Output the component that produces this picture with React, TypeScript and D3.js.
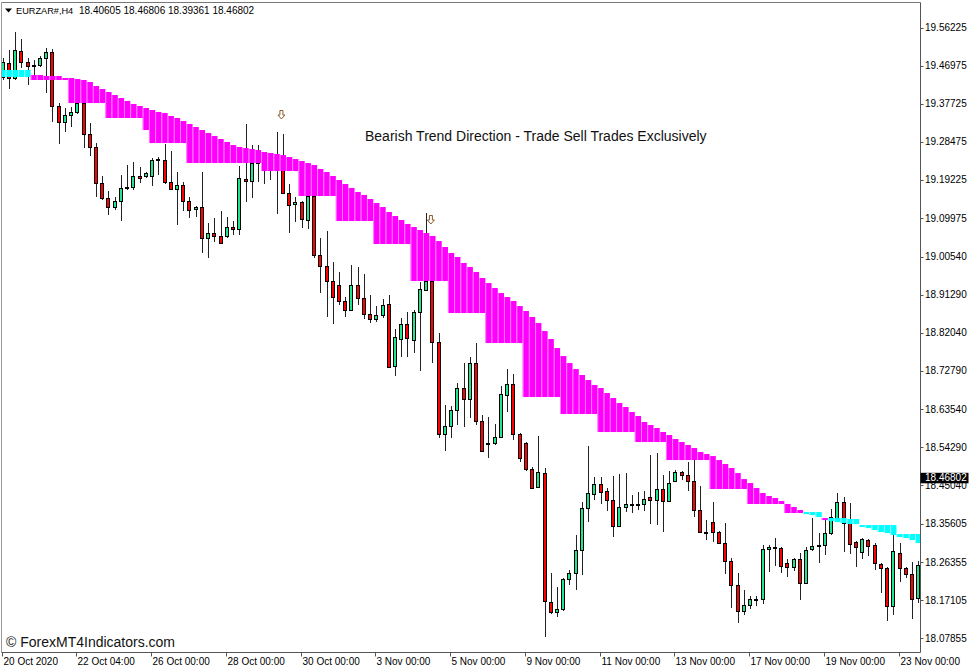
import React from 'react';
import * as d3 from 'd3';

// ---- data (EURZAR#, H4) ----
const opens = [
  19.4424, 19.4764, 19.4399, 19.5056, 19.4788, 19.4691, 19.4715, 19.4885, 19.5031, 19.3719,
  19.3329, 19.3500, 19.3573, 19.3792, 19.3038, 19.2722, 19.1847, 19.1482, 19.1263, 19.1409,
  19.1725, 19.1750, 19.2017, 19.2017, 19.2017, 19.2406, 19.2406, 19.1871, 19.1701, 19.1798,
  19.1409, 19.1214, 19.1263, 19.0509, 19.0631, 19.0558, 19.0558, 19.0777, 19.0728, 19.1944,
  19.1896, 19.2333, 19.2406, 19.2284, 19.2211, 19.2284, 19.1604, 19.1336, 19.1384, 19.0947,
  19.1531, 19.0096, 18.9829, 18.9464, 18.9366, 18.8978, 18.8759, 18.9366, 18.9051, 18.8662,
  18.8540, 18.8637, 18.8905, 18.7397, 18.8054, 18.8419, 18.8030, 18.8710, 18.9245, 18.9464,
  18.7981, 18.5744, 18.5939, 18.6328, 18.6863, 18.6595, 18.7470, 18.6061, 18.5525, 18.5525,
  18.5672, 18.6693, 18.6960, 18.5744, 18.5525, 18.4893, 18.4456, 18.4796, 18.1659, 18.1417,
  18.1489, 18.2219, 18.2365, 18.2924, 18.3945, 18.4286, 18.4529, 18.4359, 18.4140, 18.3507,
  18.3970, 18.4043, 18.4018, 18.4043, 18.4213, 18.4140, 18.4407, 18.4115, 18.4602, 18.4821,
  18.4747, 18.4602, 18.3897, 18.3361, 18.3604, 18.3361, 18.3094, 18.2657, 18.2073, 18.1441,
  18.1587, 18.1733, 18.1733, 18.2948, 18.2997, 18.2973, 18.2608, 18.2511, 18.2705, 18.2122,
  18.2948, 18.3021, 18.3045, 18.3337, 18.3702, 18.4091, 18.3580, 18.3118, 18.2876, 18.3167,
  18.3045, 18.2584, 18.2487, 18.1562, 18.2851, 18.2487, 18.2341, 18.1757,
];
const highs = [
  19.4885, 19.5080, 19.5518, 19.5348, 19.4885, 19.4837, 19.4934, 19.5128, 19.5104, 19.3792,
  19.3670, 19.3695, 19.3841, 19.4351, 19.3305, 19.2819, 19.2017, 19.1653, 19.1507, 19.2041,
  19.2284, 19.2357, 19.2236, 19.2114, 19.2454, 19.2479, 19.2795, 19.2625, 19.2114, 19.1871,
  19.1507, 19.1287, 19.2114, 19.0874, 19.0995, 19.1166, 19.1020, 19.0923, 19.2260, 19.3281,
  19.2770, 19.2770, 19.2527, 19.2454, 19.3086, 19.3038, 19.1823, 19.1507, 19.1409, 19.1725,
  19.1628, 19.0509, 19.0680, 18.9926, 18.9683, 18.9075, 18.9853, 18.9805, 18.9635, 18.9124,
  18.8857, 18.9026, 18.9124, 18.8297, 18.8565, 18.8710, 18.8759, 18.9439, 19.1117, 18.9488,
  18.8200, 18.6449, 18.6425, 18.6984, 18.7470, 18.7616, 18.7957, 18.6207, 18.6158, 18.5988,
  18.6911, 18.7324, 18.7203, 18.5769, 18.5549, 18.4942, 18.5696, 18.4918, 18.2365, 18.2025,
  18.2244, 18.2438, 18.3288, 18.4091, 18.5452, 18.4699, 18.4699, 18.4432, 18.4723, 18.4772,
  18.4796, 18.4262, 18.4334, 18.4359, 18.5234, 18.5282, 18.4748, 18.4845, 18.4869, 18.4845,
  18.5063, 18.5112, 18.4480, 18.3653, 18.4091, 18.3386, 18.3580, 18.2730, 18.2365, 18.1952,
  18.1806, 18.1806, 18.3045, 18.3045, 18.3216, 18.2997, 18.2705, 18.2730, 18.2851, 18.2997,
  18.3702, 18.3337, 18.3702, 18.3921, 18.4310, 18.4213, 18.4067, 18.3143, 18.3216, 18.3191,
  18.3094, 18.2608, 18.2511, 18.3288, 18.3094, 18.2511, 18.2633, 18.2657,
];
const lows = [
  19.4351, 19.4132, 19.4351, 19.4642, 19.4229, 19.4472, 19.4667, 19.4035, 19.3329, 19.2795,
  19.3086, 19.3208, 19.3524, 19.2697, 19.2503, 19.1507, 19.1433, 19.1068, 19.1190, 19.0923,
  19.1677, 19.1677, 19.1847, 19.1968, 19.1774, 19.2041, 19.1823, 19.1677, 19.0825, 19.1166,
  19.0996, 19.1020, 19.0145, 19.0023, 19.0412, 19.0364, 19.0509, 19.0582, 19.0582, 19.1384,
  19.1482, 19.1871, 19.1823, 19.1920, 19.1093, 19.1580, 19.0631, 19.0898, 19.0752, 19.0728,
  19.0023, 18.9172, 18.8589, 18.8419, 18.8880, 18.8589, 18.8735, 18.8880, 18.8540, 18.8443,
  18.8467, 18.8565, 18.7349, 18.7154, 18.7617, 18.7617, 18.7714, 18.7276, 18.9221, 18.7470,
  18.5647, 18.5331, 18.5647, 18.5964, 18.5915, 18.6133, 18.5964, 18.5307, 18.5160, 18.5477,
  18.5647, 18.6279, 18.5598, 18.5063, 18.4845, 18.4407, 18.4432, 18.0810, 18.1368, 18.1295,
  18.1441, 18.2073, 18.1952, 18.2316, 18.3604, 18.4140, 18.4043, 18.3873, 18.3240, 18.3483,
  18.3848, 18.3824, 18.3897, 18.3873, 18.3556, 18.3532, 18.3361, 18.4091, 18.4577, 18.4626,
  18.4359, 18.3726, 18.3337, 18.3167, 18.3118, 18.3070, 18.2341, 18.1513, 18.1149, 18.1343,
  18.1489, 18.1562, 18.1611, 18.2389, 18.2535, 18.2365, 18.2268, 18.2414, 18.1708, 18.2097,
  18.2900, 18.2608, 18.2803, 18.3288, 18.3653, 18.2876, 18.2827, 18.2511, 18.2705, 18.2778,
  18.2438, 18.1879, 18.1198, 18.1343, 18.2146, 18.2243, 18.1246, 18.1635,
];
const closes = [
  19.4788, 19.4399, 19.5080, 19.4788, 19.4691, 19.4715, 19.4885, 19.5031, 19.3719, 19.3329,
  19.3500, 19.3573, 19.3792, 19.3038, 19.2722, 19.1847, 19.1482, 19.1263, 19.1409, 19.1725,
  19.1750, 19.2017, 19.1968, 19.2090, 19.2406, 19.2430, 19.1871, 19.1701, 19.1798, 19.1409,
  19.1190, 19.1263, 19.0509, 19.0631, 19.0558, 19.0388, 19.0777, 19.0728, 19.1968, 19.1896,
  19.2333, 19.2406, 19.2284, 19.2211, 19.2284, 19.1604, 19.1312, 19.1384, 19.0971, 19.1531,
  19.0096, 18.9829, 18.9464, 18.9075, 18.8978, 18.8759, 18.9366, 18.9051, 18.8662, 18.8540,
  18.8637, 18.8880, 18.7373, 18.8103, 18.8419, 18.8079, 18.8710, 18.9269, 18.9464, 18.7981,
  18.5744, 18.5939, 18.6328, 18.6863, 18.6595, 18.7470, 18.6061, 18.5331, 18.5501, 18.5672,
  18.6717, 18.6960, 18.5744, 18.5160, 18.4893, 18.4432, 18.4821, 18.1684, 18.1417, 18.1489,
  18.2219, 18.2365, 18.2924, 18.3945, 18.4310, 18.4529, 18.4334, 18.4140, 18.3507, 18.3970,
  18.4043, 18.4018, 18.4043, 18.4164, 18.4140, 18.4407, 18.4115, 18.4553, 18.4821, 18.4747,
  18.4602, 18.3897, 18.3361, 18.3337, 18.3361, 18.3094, 18.2657, 18.2073, 18.1441, 18.1587,
  18.1733, 18.1708, 18.2948, 18.2997, 18.2973, 18.2535, 18.2511, 18.2705, 18.2122, 18.2924,
  18.3021, 18.3045, 18.3337, 18.3726, 18.4091, 18.3580, 18.3070, 18.2997, 18.3191, 18.3021,
  18.2608, 18.2487, 18.1562, 18.2900, 18.2487, 18.2341, 18.1733, 18.2560,
];

// trend ribbon (histogram between two lines)
const bandTop = [
  19.4594, 19.4594, 19.4594, 19.4594, 19.4594, 19.4472, 19.4472, 19.4448, 19.4448, 19.4448,
  19.4399, 19.4399, 19.4375, 19.4351, 19.4302, 19.4205, 19.4132, 19.4059, 19.3986, 19.3913,
  19.3841, 19.3768, 19.3719, 19.3670, 19.3622, 19.3573, 19.3549, 19.3476, 19.3427, 19.3354,
  19.3281, 19.3208, 19.3135, 19.3062, 19.2989, 19.2916, 19.2844, 19.2770, 19.2722, 19.2697,
  19.2673, 19.2649, 19.2600, 19.2576, 19.2552, 19.2527, 19.2479, 19.2430, 19.2382, 19.2333,
  19.2284, 19.2187, 19.2114, 19.2017, 19.1920, 19.1823, 19.1725, 19.1628, 19.1555, 19.1458,
  19.1361, 19.1263, 19.1142, 19.1045, 19.0947, 19.0850, 19.0777, 19.0704, 19.0631, 19.0558,
  19.0436, 19.0291, 19.0145, 19.0048, 18.9902, 18.9805, 18.9683, 18.9537, 18.9415, 18.9294,
  18.9172, 18.9075, 18.8978, 18.8856, 18.8735, 18.8589, 18.8443, 18.8248, 18.8054, 18.7835,
  18.7640, 18.7470, 18.7324, 18.7179, 18.7057, 18.6936, 18.6863, 18.6741, 18.6620, 18.6498,
  18.6401, 18.6279, 18.6182, 18.6036, 18.5964, 18.5891, 18.5793, 18.5720, 18.5623, 18.5550,
  18.5477, 18.5404, 18.5307, 18.5258, 18.5209, 18.5112, 18.5015, 18.4918, 18.4796, 18.4650,
  18.4553, 18.4432, 18.4310, 18.4237, 18.4189, 18.4115, 18.4043, 18.3970, 18.3897, 18.3848,
  18.3848, 18.3848, 18.3702, 18.3702, 18.3702, 18.3702, 18.3678, 18.3678, 18.3532, 18.3532,
  18.3532, 18.3532, 18.3532, 18.3532, 18.3313, 18.3313, 18.3313, 18.3313,
];
const bandBottom = [
  19.4424, 19.4424, 19.4424, 19.4424, 19.4424, 19.4351, 19.4351, 19.4351, 19.4351, 19.4351,
  19.4351, 19.3792, 19.3792, 19.3792, 19.3792, 19.3792, 19.3792, 19.3427, 19.3427, 19.3427,
  19.3427, 19.3427, 19.3427, 19.3135, 19.2819, 19.2819, 19.2819, 19.2819, 19.2819, 19.2819,
  19.2333, 19.2333, 19.2333, 19.2333, 19.2333, 19.2333, 19.2333, 19.2333, 19.2333, 19.2333,
  19.2333, 19.2333, 19.2138, 19.2138, 19.2138, 19.2138, 19.2138, 19.2138, 19.1531, 19.1531,
  19.1531, 19.1531, 19.1531, 19.1531, 19.0923, 19.0923, 19.0923, 19.0923, 19.0923, 19.0923,
  19.0364, 19.0364, 19.0364, 19.0364, 19.0364, 19.0364, 18.9464, 18.9464, 18.9464, 18.9464,
  18.9464, 18.9464, 18.8686, 18.8686, 18.8686, 18.8686, 18.8686, 18.8686, 18.7957, 18.7957,
  18.7957, 18.7957, 18.7957, 18.7957, 18.6644, 18.6644, 18.6644, 18.6644, 18.6644, 18.6644,
  18.6231, 18.6231, 18.6231, 18.6231, 18.6231, 18.6231, 18.5793, 18.5793, 18.5793, 18.5793,
  18.5793, 18.5793, 18.5550, 18.5550, 18.5550, 18.5550, 18.5550, 18.5112, 18.5112, 18.5112,
  18.5112, 18.5112, 18.5112, 18.5112, 18.4408, 18.4408, 18.4408, 18.4408, 18.4408, 18.4408,
  18.4043, 18.4043, 18.4043, 18.4043, 18.4043, 18.4043, 18.3824, 18.3824, 18.3824, 18.3799,
  18.3775, 18.3726, 18.3653, 18.3629, 18.3604, 18.3580, 18.3556, 18.3556, 18.3483, 18.3459,
  18.3410, 18.3361, 18.3337, 18.3288, 18.3240, 18.3216, 18.3167, 18.3094,
];
// runs of ribbon colour: [number of bars, direction]
const bandRuns: [number, 'up' | 'down'][] = [[5, 'up'], [124, 'down'], [3, 'up'], [1, 'down'], [15, 'up']];

const signalIdx = [45, 69];
const signalPrice = [19.35, 19.0947];

const xLabelIdx = [0, 12, 24, 36, 48, 60, 72, 84, 96, 108, 120, 132, 144];
const xLabels = ['20 Oct 2020', '22 Oct 04:00', '26 Oct 00:00', '28 Oct 00:00', '30 Oct 00:00', '3 Nov 00:00',
  '5 Nov 00:00', '9 Nov 00:00', '11 Nov 00:00', '13 Nov 00:00', '17 Nov 00:00', '19 Nov 00:00', '23 Nov 00:00'];
const yTicks = [19.56225, 19.46975, 19.37725, 19.28475, 19.19225, 19.09975, 19.0054, 18.9129, 18.8204,
  18.7279, 18.6354, 18.5429, 18.4504, 18.35605, 18.26355, 18.17105, 18.07855];

const symbol = 'EURZAR#,H4';
const headerOHLC = ['18.40605', '18.46806', '18.39361', '18.46802'];
const currentPrice = 18.46802;
const title = 'Bearish Trend Direction - Trade Sell Trades Exclusively';
const watermark = '\u00A9 ForexMT4Indicators.com';

// ---- layout ----
const W = 977, H = 672;
const PL = 1.5, PT = 2.5, PR = 920.5, PB = 652.5;
const FONT = '"Liberation Sans", Arial, sans-serif';

export default function App() {
  const n = closes.length;
  const x = d3.scaleLinear().domain([0, n - 1]).range([2.6, 2.6 + 6.229 * (n - 1)]);
  const y = d3.scaleLinear().domain([18.07855, 19.56225]).range([638, 27.7]);
  const step = x(1) - x(0);

  const dirs: string[] = [];
  bandRuns.forEach(([cnt, d]) => { for (let k = 0; k < cnt; k++) dirs.push(d); });

  const candles = closes.map((c, i) => {
    const o = opens[i];
    const xc = Math.round(x(i)) + 0.5;
    const yo = y(o), yc = y(c);
    const top = Math.round(Math.min(yo, yc)) + 0.5;
    const bot = Math.round(Math.max(yo, yc)) + 0.5;
    const bull = c > o;
    const bodyH = bot - top;
    return (
      <g key={i}>
        <line x1={xc} x2={xc} y1={Math.round(y(highs[i]))} y2={Math.round(y(lows[i]))} stroke="#222" strokeWidth={1} />
        {bodyH < 1 ? (
          <line x1={xc - 2} x2={xc + 2} y1={top} y2={top} stroke="#000" strokeWidth={1} />
        ) : (
          <rect x={xc - 2} y={top} width={3} height={bodyH}
            fill={bull ? '#1fe58f' : '#ff0000'} stroke="#000" strokeWidth={1} />
        )}
      </g>
    );
  });

  const band = bandTop.map((t, i) => {
    const up = dirs[i] === 'up';
    const yt = y(t), yb = y(bandBottom[i]);
    const x0 = x(i) - step / 2;
    const h = Math.max(yb - yt, 1);
    return (
      <g key={i}>
        <rect x={x0} y={yt} width={step} height={h} fill={up ? '#00ffff' : '#ff00ff'} />
        <line x1={x0 + 0.4} x2={x0 + 0.4} y1={yt} y2={yt + h}
          stroke={up ? '#b8ffff' : '#ff9cff'} strokeWidth={0.8} />
      </g>
    );
  });

  const arrows = signalIdx.map((idx, k) => {
    const cx = x(idx) - 1.5, cy = y(signalPrice[k]);
    const d = `M${cx - 1.5},${cy - 4.5}L${cx + 1.5},${cy - 4.5}L${cx + 1.5},${cy}L${cx + 3.5},${cy}L${cx},${cy + 4}L${cx - 3.5},${cy}L${cx - 1.5},${cy}Z`;
    return <path key={k} d={d} fill="#fff" stroke="#8b5a2b" strokeWidth={1} />;
  });

  const yCur = y(currentPrice);

  return (
    <svg width={W} height={H} style={{ position: 'absolute', left: 0, top: 0, background: '#fff' }} fontFamily={FONT}>
      <defs>
        <clipPath id="plotClip">
          <rect x={PL} y={PT} width={PR - PL} height={PB - PT} />
        </clipPath>
      </defs>
      <rect x={0} y={0} width={W} height={H} fill="#fff" />
      <g clipPath="url(#plotClip)">
        {candles}
        {band}
        {arrows}
      </g>

      {/* header */}
      <path d="M5,8.5L12,8.5L8.5,12.5Z" fill="#000" />
      <text x={16} y={13.5} fontSize={9.2} fill="#000">{symbol}</text>
      <text x={79} y={13.5} fontSize={10} fill="#000">{headerOHLC.join(' ')}</text>

      <text x={365} y={140.5} fontSize={14} fill="#111">{title}</text>
      <text x={6} y={647} fontSize={14} fill="#111">{watermark}</text>

      {/* frame */}
      <line x1={PL} x2={PR} y1={PT} y2={PT} stroke="#777" />
      <line x1={PL} x2={PL} y1={PT} y2={PB} stroke="#999" />
      <line x1={PR} x2={PR} y1={PT} y2={PB} stroke="#555" />
      <line x1={PL} x2={PR} y1={PB} y2={PB} stroke="#555" />

      {/* y axis */}
      {yTicks.map((t) => (
        <g key={t}>
          <line x1={PR} x2={PR + 3} y1={Math.round(y(t)) + 0.5} y2={Math.round(y(t)) + 0.5} stroke="#555" />
          <text x={925} y={y(t) + 3.6} fontSize={10} fill="#000">{t.toFixed(5)}</text>
        </g>
      ))}
      <rect x={920.5} y={yCur - 5} width={48} height={10.5} fill="#000" />
      <text x={925} y={yCur + 3.6} fontSize={10} fill="#fff">{currentPrice.toFixed(5)}</text>

      {/* x axis */}
      {xLabelIdx.map((idx, k) => {
        const xt = Math.round(x(idx)) - 0.5;
        return (
          <g key={idx}>
            <line x1={xt} x2={xt} y1={PB} y2={PB + 4} stroke="#555" />
            <text x={xt + 1} y={664.5} fontSize={10} fill="#000">{xLabels[k]}</text>
          </g>
        );
      })}
    </svg>
  );
}
